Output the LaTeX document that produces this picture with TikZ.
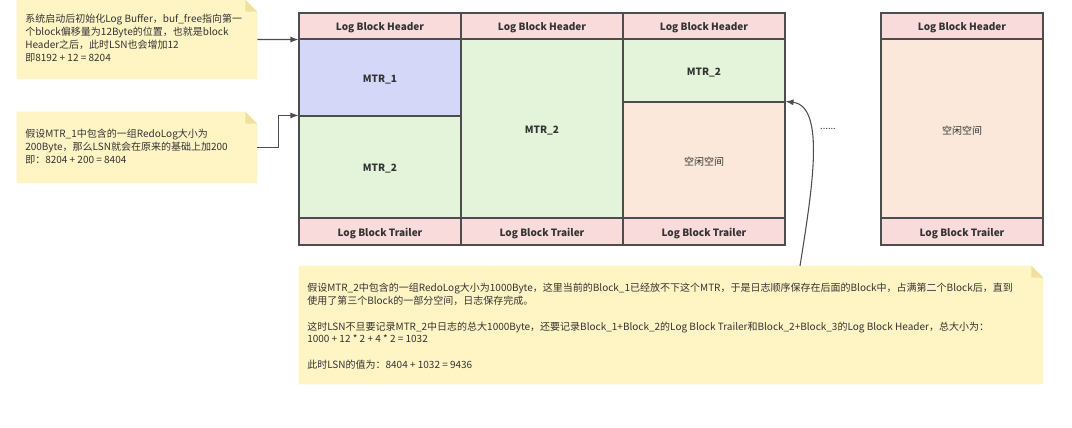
\documentclass[tikz,border=0pt]{standalone}
\usepackage{fontspec}
\setmainfont{Noto Sans CJK SC}
\usetikzlibrary{arrows.meta,fit}

\definecolor{hdrpink}{HTML}{F9DBDB}
\definecolor{mtrblue}{HTML}{D4D7F7}
\definecolor{mtrgreen}{HTML}{E3F4DA}
\definecolor{freetan}{HTML}{FCE8DA}
\definecolor{noteyel}{HTML}{FFF5C4}
\definecolor{notefold}{HTML}{F1E09C}
\definecolor{edgegray}{HTML}{4D4D4D}
\definecolor{txtgray}{HTML}{333333}

\begin{document}
\begin{tikzpicture}[x=0.75pt, y=-0.75pt,
  cell/.style={draw=edgegray, line width=0.8pt, inner sep=0pt},
  lbl/.style={text=txtgray, yshift=-1.3pt, font=\fontsize{7.5}{9}\selectfont\bfseries},
  freelbl/.style={text=txtgray, yshift=-1.3pt, font=\fontsize{7.5}{9}\selectfont},
  notebox/.style={inner sep=0pt},
  notetext/.style={inner sep=0pt, align=left, anchor=north west, text=txtgray,
    font=\fontsize{7.5}{9.6}\selectfont},
  link/.style={draw=edgegray, line width=0.8pt, -{Latex[length=6pt,width=4.5pt]}}]
\useasboundingbox (0,0) rectangle (1072,428);

% header and trailer of each block
\foreach \i/\xa/\xb in {1/299/461, 2/461/623, 3/623/785, 4/881/1043} {
  \node[cell, fill=hdrpink, fit={(\xa,13) (\xb,39)}] (hd\i) {};
  \node[lbl] at (hd\i.center) {Log Block Header};
  \node[cell, fill=hdrpink, fit={(\xa,218) (\xb,245)}] (tr\i) {};
  \node[lbl] at (tr\i.center) {Log Block Trailer};
}

% block bodies
\node[cell, fill=mtrblue, fit={(299,39) (461,116)}] (ma) {};
\node[lbl] at (ma.center) {MTR\_1};
\node[cell, fill=mtrgreen, fit={(299,116) (461,218)}] (mb) {};
\node[lbl] at (mb.center) {MTR\_2};
\node[cell, fill=mtrgreen, fit={(461,39) (623,218)}] (mc) {};
\node[lbl] at (mc.center) {MTR\_2};
\node[cell, fill=mtrgreen, fit={(623,39) (785,102)}] (md) {};
\node[lbl] at (md.center) {MTR\_2};
\node[cell, fill=freetan, fit={(623,102) (785,218)}] (fa) {};
\node[freelbl] at (fa.center) {空闲空间};
\node[cell, fill=freetan, fit={(881,39) (1043,218)}] (fb) {};
\node[freelbl] at (fb.center) {空闲空间};

\node[text=txtgray, font=\fontsize{7}{8}\selectfont] (dots) at (828,129) {......};

% notes
\foreach \n/\xa/\ya/\xb/\yb in {na/17/0/257/79, nb/17/112/257/183, nc/299/266/1043/384} {
  \node[notebox, fit={(\xa,\ya) (\xb,\yb)}] (\n) {};
  \fill[noteyel] (\n.north west) -- ([xshift=-9pt]\n.north east)
    -- ([yshift=-9pt]\n.north east) -- (\n.south east) -- (\n.south west) -- cycle;
  \fill[notefold] ([xshift=-9pt]\n.north east) -- ([yshift=-9pt]\n.north east)
    -- ([xshift=-9pt,yshift=-9pt]\n.north east) -- cycle;
}

\node[notetext] (ta) at (25,14) {系统启动后初始化Log Buffer，buf\_free指向第一\\
  个block偏移量为12Byte的位置，也就是block\\
  Header之后，此时LSN也会增加12\\
  即8192 + 12 = 8204};
\node[notetext] (tb) at (25,129) {假设MTR\_1中包含的一组RedoLog大小为\\
  200Byte，那么LSN就会在原来的基础上加200\\
  即：8204 + 200 = 8404};
\node[notetext] (tc) at (307,283) {假设MTR\_2中包含的一组RedoLog大小为1000Byte，这里当前的Block\_1已经放不下这个MTR，于是日志顺序保存在后面的Block中，占满第二个Block后，直到\\
  使用了第三个Block的一部分空间，日志保存完成。\\[9.6pt]
  这时LSN不旦要记录MTR\_2中日志的总大1000Byte，还要记录Block\_1+Block\_2的Log Block Trailer和Block\_2+Block\_3的Log Block Header，总大小为：\\
  1000 + 12 * 2 + 4 * 2 = 1032\\[9.6pt]
  此时LSN的值为：8404 + 1032 = 9436};

% connectors
\coordinate (nc start) at (800,266);
\draw[link] (na.east) -- (hd1.south west);
\draw[link] (nb.east) -- ++(21,0) |- (mb.north west);
\draw[link] (nc start) .. controls (812,190) and (826,106) .. (fa.north east);
\end{tikzpicture}
\end{document}
